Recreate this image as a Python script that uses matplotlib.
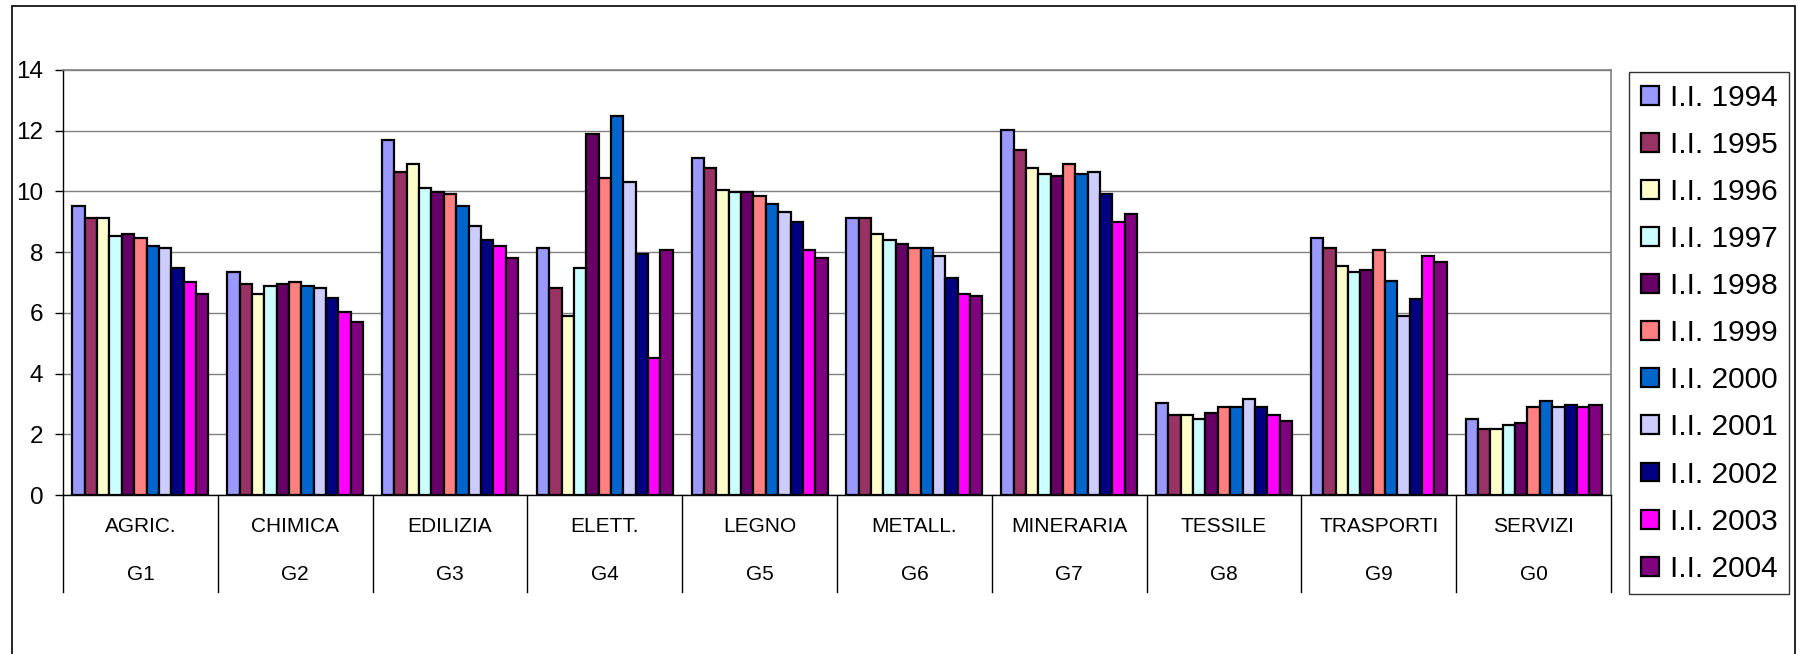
import matplotlib
matplotlib.use('Agg')
import matplotlib.pyplot as plt
from matplotlib.patches import Rectangle
import numpy as np

plt.rcParams['font.family'] = ['Liberation Sans', 'DejaVu Sans']

# settori e codici
settori = ['AGRIC.', 'CHIMICA', 'EDILIZIA', 'ELETT.', 'LEGNO',
           'METALL.', 'MINERARIA', 'TESSILE', 'TRASPORTI', 'SERVIZI']
codici = ['G1', 'G2', 'G3', 'G4', 'G5', 'G6', 'G7', 'G8', 'G9', 'G0']

# indici di incidenza per anno
ii_1994 = [9.53, 7.36, 11.71, 8.14, 11.10, 9.12, 12.02, 3.02, 8.48, 2.49]
ii_1995 = [9.11, 6.96, 10.64, 6.83, 10.78, 9.12, 11.38, 2.62, 8.14, 2.17]
ii_1996 = [9.11, 6.63, 10.91, 5.91, 10.05, 8.61, 10.78, 2.62, 7.55, 2.17]
ii_1997 = [8.53, 6.90, 10.12, 7.49, 9.98, 8.41, 10.59, 2.49, 7.36, 2.29]
ii_1998 = [8.61, 6.96, 9.98, 11.89, 9.98, 8.28, 10.52, 2.69, 7.42, 2.36]
ii_1999 = [8.47, 7.03, 9.92, 10.45, 9.86, 8.15, 10.90, 2.89, 8.08, 2.89]
ii_2000 = [8.20, 6.90, 9.53, 12.48, 9.59, 8.15, 10.59, 2.89, 7.04, 3.09]
ii_2001 = [8.14, 6.83, 8.87, 10.31, 9.33, 7.88, 10.64, 3.15, 5.91, 2.89]
ii_2002 = [7.49, 6.50, 8.41, 7.95, 9.00, 7.16, 9.93, 2.89, 6.45, 2.95]
ii_2003 = [7.03, 6.03, 8.21, 4.50, 8.08, 6.63, 9.00, 2.62, 7.88, 2.89]
ii_2004 = [6.63, 5.71, 7.82, 8.08, 7.82, 6.57, 9.27, 2.44, 7.69, 2.95]

serie = [ii_1994, ii_1995, ii_1996, ii_1997, ii_1998, ii_1999,
         ii_2000, ii_2001, ii_2002, ii_2003, ii_2004]
etichette = ['I.I. 1994', 'I.I. 1995', 'I.I. 1996', 'I.I. 1997', 'I.I. 1998',
             'I.I. 1999', 'I.I. 2000', 'I.I. 2001', 'I.I. 2002', 'I.I. 2003',
             'I.I. 2004']
colori = ['#9999FF', '#993366', '#FFFFCC', '#CCFFFF', '#660066', '#FF8080',
          '#0066CC', '#CCCCFF', '#000080', '#FF00FF', '#800080']

W, H = 1798, 654
fig = plt.figure(figsize=(W / 100, H / 100), dpi=100)
ax = fig.add_axes([63 / W, 1 - 495 / H, (1611 - 63) / W, (495 - 70) / H])

# barre raggruppate
x = np.arange(len(settori))
gruppo = 0.8786
larg = gruppo / len(serie)
for j, (vals, lab, col) in enumerate(zip(serie, etichette, colori)):
    pos = x - gruppo / 2 + larg * (j + 0.5)
    ax.bar(pos, vals, width=larg, color=col, edgecolor='black',
           linewidth=1.6, label=lab, zorder=3)

ax.set_xlim(-0.5, len(settori) - 0.5)
ax.set_ylim(0, 14)
ax.set_yticks(range(0, 15, 2))
ax.tick_params(axis='y', labelsize=17.5, length=5.8, width=1, pad=8.5)
ax.yaxis.grid(True, color='#808080', linewidth=1.0, zorder=0)
ax.set_axisbelow(True)
ax.set_xticks([])

for s in ['top', 'right']:
    ax.spines[s].set_color('#808080')
    ax.spines[s].set_linewidth(1.2)
for s in ['left', 'bottom']:
    ax.spines[s].set_color('black')
    ax.spines[s].set_linewidth(1.0)

# separatori e etichette delle categorie (carattere stretto)
stretto = ['Liberation Sans Narrow', 'Liberation Sans', 'DejaVu Sans']
trans = ax.get_xaxis_transform()
for k in range(len(settori) + 1):
    ax.plot([k - 0.5, k - 0.5], [0, -0.228], color='black', linewidth=1.0,
            transform=trans, clip_on=False)
for i in range(len(settori)):
    ax.text(i, -0.075, settori[i], transform=trans, ha='center', va='center',
            fontsize=15, family=stretto)
    ax.text(i, -0.188, codici[i], transform=trans, ha='center', va='center',
            fontsize=15, family=stretto)

leg = fig.legend(loc='upper left', bbox_to_anchor=(1629 / W, 1 - 72 / H),
                 fontsize=21.5, frameon=True, fancybox=False, borderpad=0.39,
                 labelspacing=0.64, handlelength=0.6, handleheight=0.6,
                 handletextpad=0.38, borderaxespad=0)
leg.get_frame().set_edgecolor('black')
leg.get_frame().set_linewidth(1.0)

# cornice esterna
fig.patches.append(Rectangle((12 / W, -0.01), (1795 - 12) / W, 1 - 6 / H + 0.01,
                             transform=fig.transFigure, fill=False,
                             edgecolor='black', linewidth=1.2))

plt.savefig('out.png', dpi=100)
plt.close()
